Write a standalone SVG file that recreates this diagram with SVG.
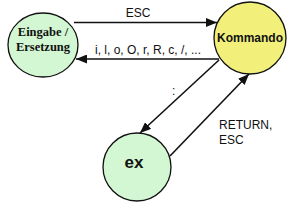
<svg xmlns="http://www.w3.org/2000/svg" width="300" height="211" viewBox="0 0 300 211">
<style>
.node{stroke:#111;stroke-width:1.3}
.green{fill:#d2f7d2}
.yellow{fill:#f2f07a}
.edge{stroke:#111;stroke-width:1.6;fill:none}
.lbl{font-family:"Liberation Sans",Arial,sans-serif;font-size:12px;fill:#111}
.serif{font-family:"Liberation Serif","Times New Roman",serif;font-weight:bold;font-size:12.5px;fill:#111}
.bold{font-family:"Liberation Sans",Arial,sans-serif;font-weight:bold;fill:#111}
</style>
<defs>
<marker id="ah" viewBox="0 0 11 9" refX="11" refY="4.5" markerWidth="11" markerHeight="9" markerUnits="userSpaceOnUse" orient="auto">
<path d="M0,0 L11,4.5 L0,9 Z" fill="#111"/>
</marker>
</defs>
<rect width="300" height="211" fill="#fff"/>
<g id="edges">
<line class="edge" x1="74" y1="22.5" x2="217" y2="22.5" marker-end="url(#ah)"/>
<line class="edge" x1="219" y1="59" x2="76" y2="59" marker-end="url(#ah)"/>
<line class="edge" x1="219" y1="60" x2="140" y2="133" marker-end="url(#ah)"/>
<line class="edge" x1="170" y1="156" x2="249" y2="74" marker-end="url(#ah)"/>
<text class="lbl" x="138" y="17" text-anchor="middle">ESC</text>
<text class="lbl" x="95" y="54">i, l, o, O, r, R, c, /, ...</text>
<text class="lbl" x="172" y="95">:</text>
<text class="lbl" x="219" y="129">RETURN,</text>
<text class="lbl" x="219" y="144">ESC</text>
</g>
<g id="eingabe">
<ellipse class="node green" cx="43" cy="45" rx="35" ry="32"/>
<text class="serif" x="43" y="36" text-anchor="middle">Eingabe /</text>
<text class="serif" x="43" y="51" text-anchor="middle">Ersetzung</text>
</g>
<g id="kommando">
<circle class="node yellow" cx="250" cy="38" r="36"/>
<text class="bold" x="250" y="42" text-anchor="middle" font-size="12">Kommando</text>
</g>
<g id="ex">
<circle class="node green" cx="137" cy="167" r="34"/>
<text class="bold" x="134" y="168" text-anchor="middle" font-size="17">ex</text>
</g>
</svg>
